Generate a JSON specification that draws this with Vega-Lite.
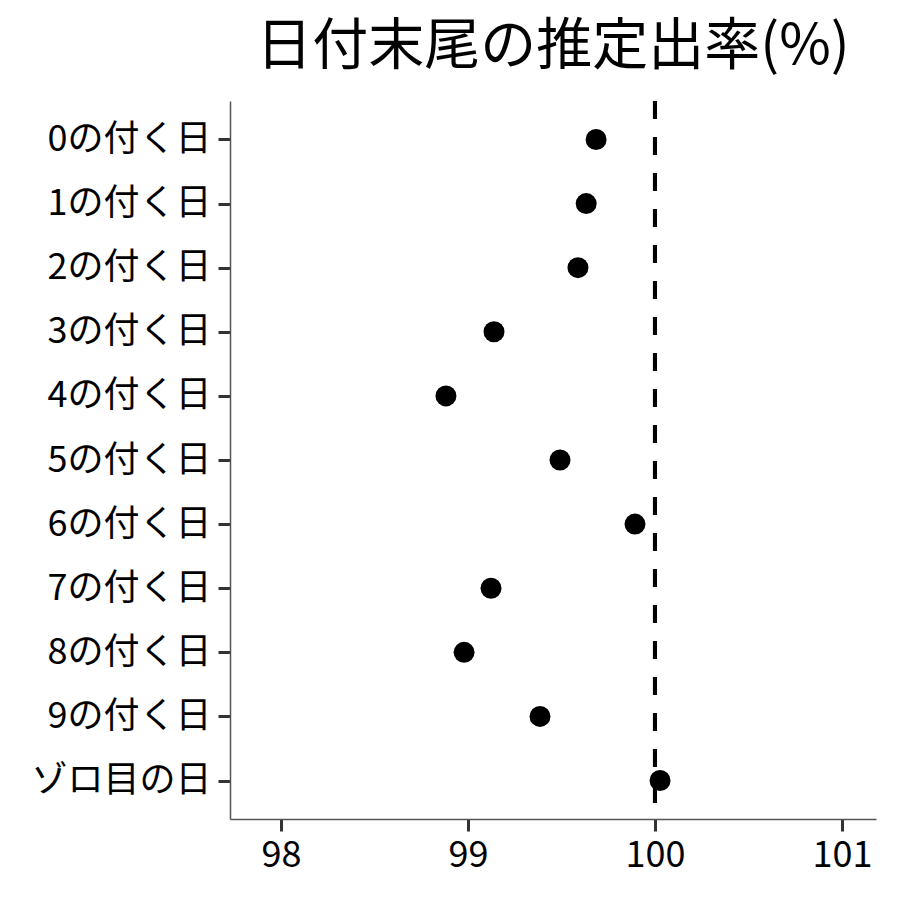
{
  "$schema": "https://vega.github.io/schema/vega-lite/v6.json",
  "autosize": {"type": "none"},
  "width": 646,
  "height": 718,
  "padding": {"left": 230, "top": 101, "right": 24, "bottom": 81},
  "background": "white",
  "title": {
    "text": "日付末尾の推定出率(%)",
    "font": "Noto Sans CJK JP",
    "fontSize": 56,
    "fontWeight": "normal",
    "color": "black",
    "anchor": "middle",
    "offset": 23
  },
  "config": {
    "view": {"stroke": null},
    "axis": {
      "grid": false,
      "domainColor": "#555555",
      "domainWidth": 1.5,
      "tickColor": "#333333",
      "tickWidth": 3,
      "tickSize": 12,
      "labelFont": "Noto Sans CJK JP",
      "labelColor": "black",
      "labelLimit": 0,
      "title": null
    }
  },
  "data": {
    "values": [
      {"category": "0の付く日", "rate": 99.685},
      {"category": "1の付く日", "rate": 99.632},
      {"category": "2の付く日", "rate": 99.588},
      {"category": "3の付く日", "rate": 99.139},
      {"category": "4の付く日", "rate": 98.882},
      {"category": "5の付く日", "rate": 99.492},
      {"category": "6の付く日", "rate": 99.893},
      {"category": "7の付く日", "rate": 99.123},
      {"category": "8の付く日", "rate": 98.979},
      {"category": "9の付く日", "rate": 99.385},
      {"category": "ゾロ目の日", "rate": 100.027}
    ]
  },
  "layer": [
    {
      "mark": {"type": "rule", "strokeDash": [18, 18], "strokeWidth": 4, "color": "black"},
      "encoding": {"x": {"datum": 100}}
    },
    {
      "mark": {"type": "circle", "size": 440, "color": "black", "opacity": 1},
      "encoding": {
        "y": {
          "field": "category",
          "type": "nominal",
          "sort": null,
          "scale": {"type": "point", "padding": 0.6},
          "axis": {"labelFontSize": 36, "labelPadding": 7}
        },
        "x": {
          "field": "rate",
          "type": "quantitative",
          "scale": {"domain": [97.727, 101.182], "nice": false, "zero": false},
          "axis": {"values": [98, 99, 100, 101], "format": "d", "labelFontSize": 36, "labelPadding": 7}
        }
      }
    }
  ]
}
